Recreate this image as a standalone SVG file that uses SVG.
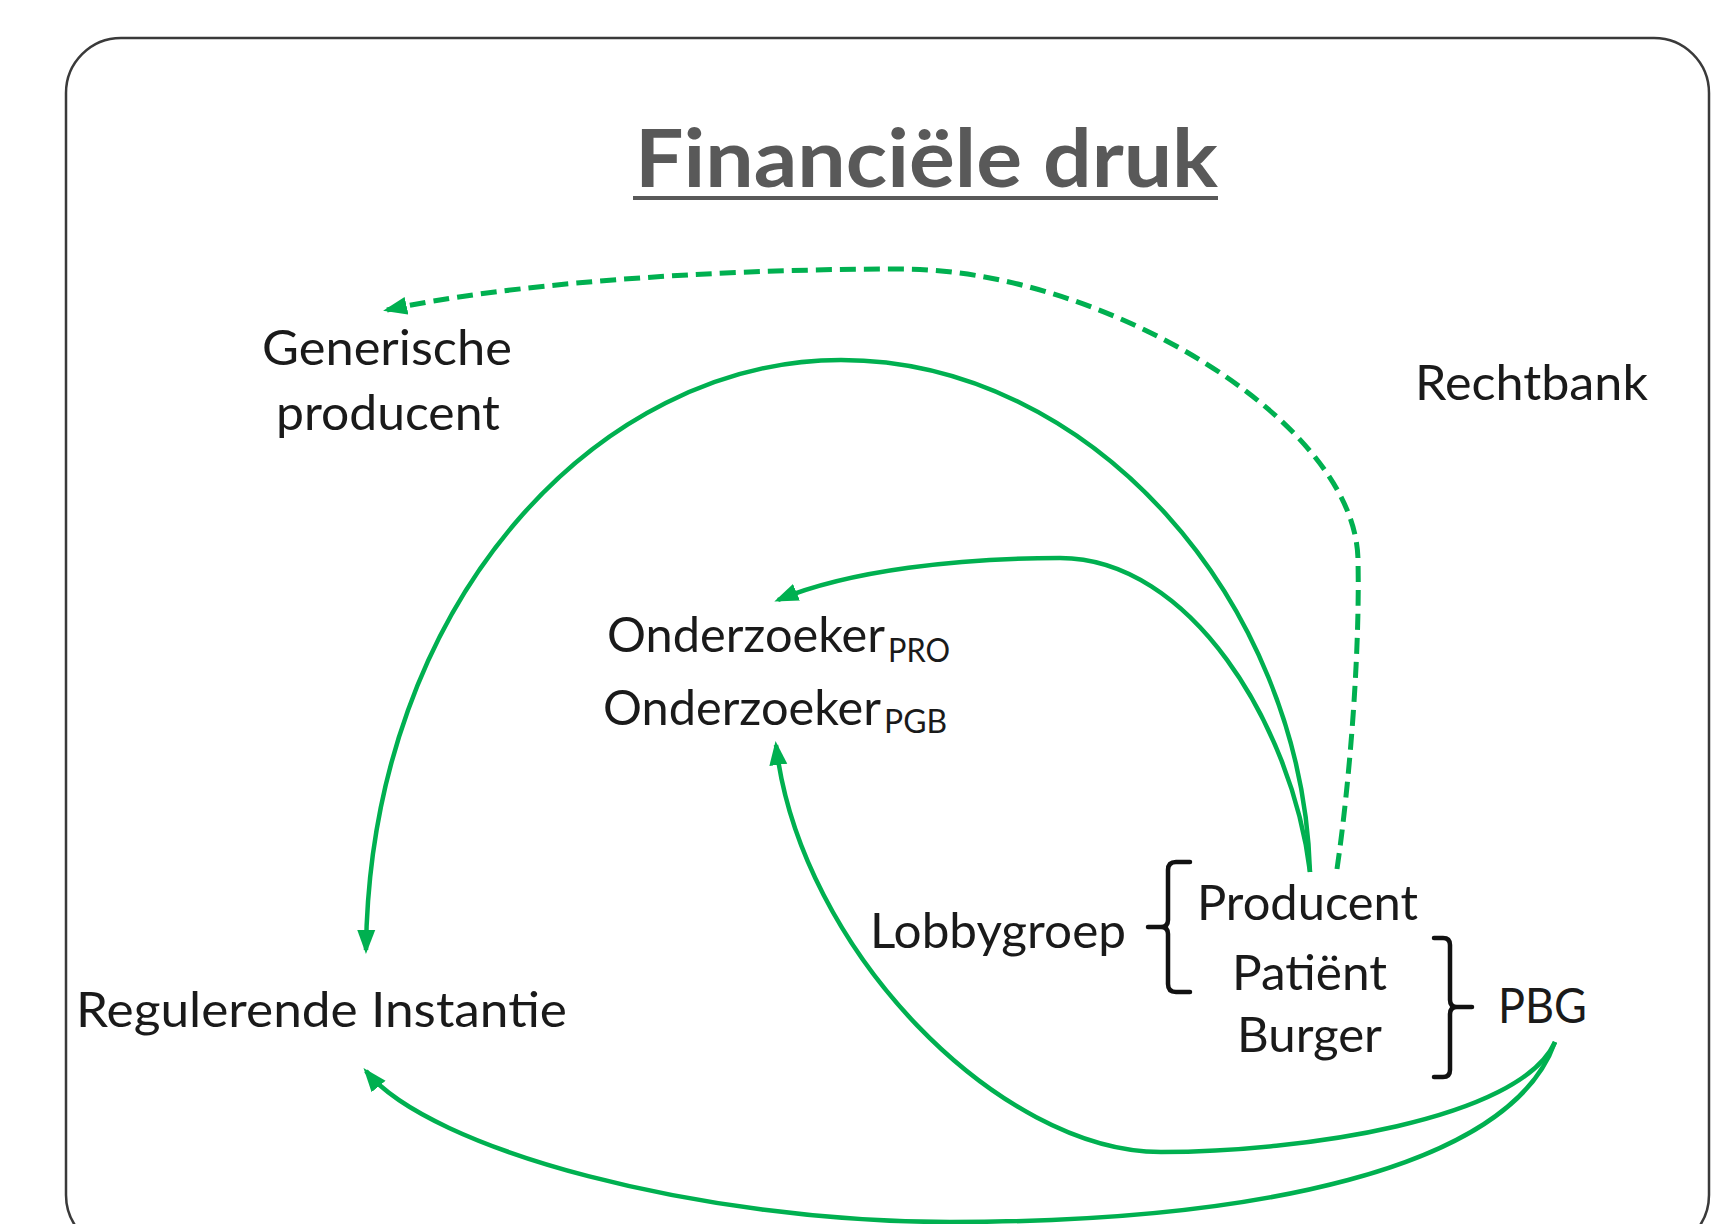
<svg xmlns="http://www.w3.org/2000/svg" width="1723" height="1224" viewBox="0 0 1723 1224">
<style>
.lbl{font-family:Lato,"Open Sans","Liberation Sans",sans-serif;font-size:48px;fill:#1a1a1a}
.sub{font-family:Lato,"Open Sans","Liberation Sans",sans-serif;font-size:32px;fill:#1a1a1a}
.title{font-family:Lato,"Open Sans","Liberation Sans",sans-serif;font-size:80px;font-weight:bold;fill:#595959}
.arc{fill:none;stroke:#00B050;stroke-width:4.5}
.dash{stroke-dasharray:16 8;stroke-width:5}
.brk{fill:none;stroke:#111;stroke-width:4.5;stroke-linecap:round;stroke-linejoin:round}
</style>
<defs>
<marker id="ah" markerUnits="userSpaceOnUse" markerWidth="24" markerHeight="20" refX="20" refY="10" orient="auto">
<path d="M0,1 L24,10 L0,19 z" fill="#00B050"/>
</marker>
</defs>
<rect width="1723" height="1224" fill="#fff"/>
<rect x="66" y="38" width="1643" height="1212" rx="55" ry="55" fill="none" stroke="#3a3a3a" stroke-width="2.5"/>

<g id="title">
<text class="title" x="635" y="187" textLength="583" lengthAdjust="spacingAndGlyphs">Financiële druk</text>
<line x1="633" y1="198" x2="1218" y2="198" stroke="#595959" stroke-width="4"/>
</g>

<g id="connectors">
<path class="arc" marker-end="url(#ah)" d="M1310,872 C1302,600 1090,360 841,360 C600,360 370,600 366,950"/>
<path class="arc" marker-end="url(#ah)" d="M1310,872 C1292,725 1190,558 1060,558 C960,558 850,570 778,600"/>
<path class="arc dash" marker-end="url(#ah)" d="M1337,869 C1350,780 1360,650 1358,560 C1356,420 1100,269 901,269 C700,269 500,285 387,310"/>
<path class="arc" marker-end="url(#ah)" d="M1555,1042 C1520,1120 1300,1152 1161,1152 C1000,1152 800,950 776,745"/>
<path class="arc" marker-end="url(#ah)" d="M1555,1042 C1510,1170 1250,1222 950,1222 C700,1222 430,1150 366,1071"/>
</g>

<g id="generische-producent">
<text class="lbl" x="262" y="365" textLength="250" lengthAdjust="spacingAndGlyphs">Generische</text>
<text class="lbl" x="276" y="430" textLength="224" lengthAdjust="spacingAndGlyphs">producent</text>
</g>
<g id="rechtbank">
<text class="lbl" x="1415" y="400" textLength="233" lengthAdjust="spacingAndGlyphs">Rechtbank</text>
</g>
<g id="onderzoeker-pro">
<text class="lbl" x="607" y="652" textLength="278" lengthAdjust="spacingAndGlyphs">Onderzoeker</text>
<text class="sub" x="888" y="662" textLength="62" lengthAdjust="spacingAndGlyphs">PRO</text>
</g>
<g id="onderzoeker-pgb">
<text class="lbl" x="603" y="725" textLength="278" lengthAdjust="spacingAndGlyphs">Onderzoeker</text>
<text class="sub" x="884" y="733" textLength="63" lengthAdjust="spacingAndGlyphs">PGB</text>
</g>
<g id="regulerende-instantie">
<text class="lbl" x="76" y="1027" textLength="491" lengthAdjust="spacingAndGlyphs">Regulerende Instantie</text>
</g>
<g id="lobbygroep">
<text class="lbl" x="870" y="948" textLength="256" lengthAdjust="spacingAndGlyphs">Lobbygroep</text>
<path class="brk" d="M1190,862 L1176,862 Q1168,862 1168,870 L1168,920 Q1168,927 1161,927 L1148,927 M1161,927 Q1168,927 1168,934 L1168,984 Q1168,992 1176,992 L1190,992"/>
</g>
<g id="producent">
<text class="lbl" x="1197" y="920" textLength="221" lengthAdjust="spacingAndGlyphs">Producent</text>
</g>
<g id="patient">
<text class="lbl" x="1232" y="990" textLength="155" lengthAdjust="spacingAndGlyphs">Patiënt</text>
</g>
<g id="burger">
<text class="lbl" x="1237" y="1052" textLength="145" lengthAdjust="spacingAndGlyphs">Burger</text>
</g>
<g id="pbg">
<path class="brk" d="M1434,938 L1443,938 Q1450,938 1450,945 L1450,1000 Q1450,1007 1457,1007 L1472,1007 M1457,1007 Q1450,1007 1450,1014 L1450,1070 Q1450,1077 1443,1077 L1434,1077"/>
<text class="lbl" x="1498" y="1023" textLength="89" lengthAdjust="spacingAndGlyphs">PBG</text>
</g>
</svg>
